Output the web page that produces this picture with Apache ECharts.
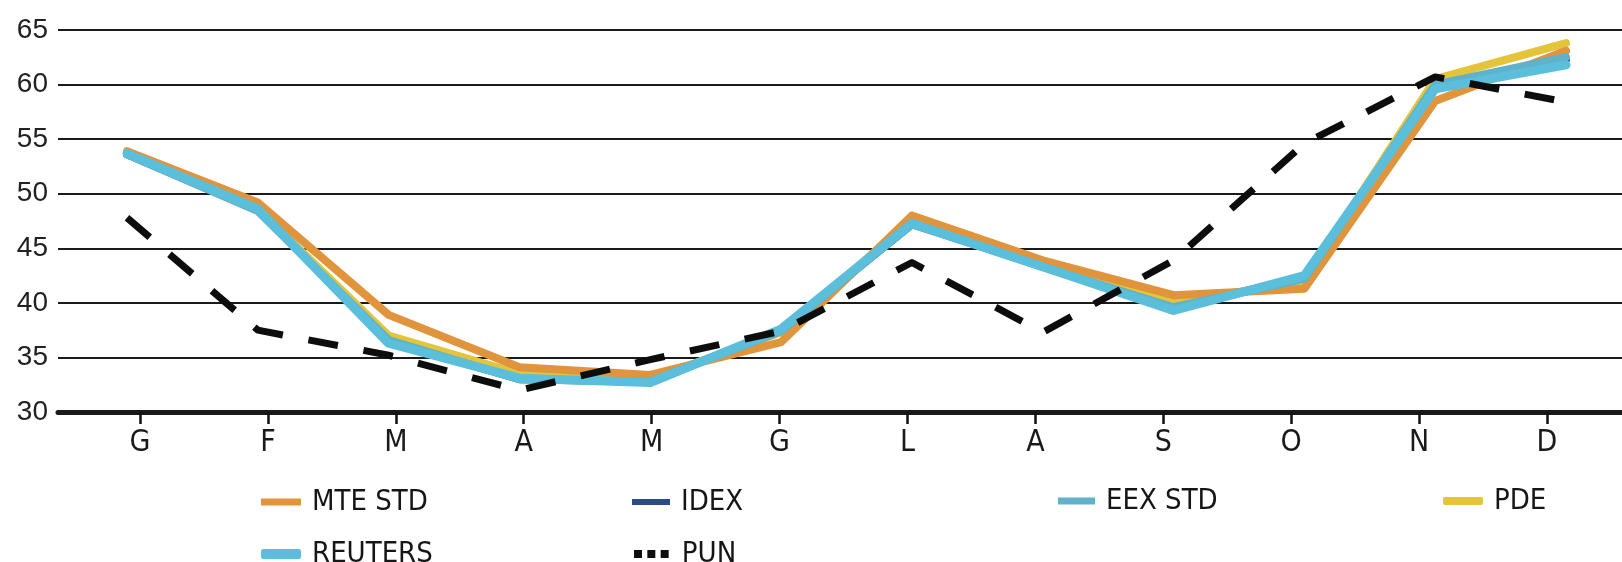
<!DOCTYPE html>
<html>
<head>
<meta charset="utf-8">
<script src="https://cdn.jsdelivr.net/npm/echarts@6/dist/echarts.min.js"></script>
<style>
  html, body { margin: 0; padding: 0; background: #ffffff; }
  #chart { width: 1622px; height: 562px; }
</style>
</head>
<body>
<div id="chart"></div>
<script>
// Month initials (Italian): Gennaio ... Dicembre
const months = ['G', 'F', 'M', 'A', 'M', 'G', 'L', 'A', 'S', 'O', 'N', 'D'];

// Monthly prices, €/MWh
const mteStd  = [53.9, 49.2, 38.9, 34.1, 33.4, 36.4, 48.0, 43.9, 40.7, 41.3, 58.5, 63.1];
const idex    = [53.6, 48.5, 36.5, 33.0, 32.8, 37.5, 47.2, 43.4, 39.6, 42.3, 60.0, 62.3];
const eexStd  = [53.6, 48.4, 36.6, 33.0, 32.8, 37.4, 47.2, 43.3, 39.6, 42.2, 60.0, 62.5];
const pde     = [53.7, 48.6, 37.0, 33.5, 33.0, 37.3, 47.6, 43.6, 40.0, 42.0, 60.5, 63.8];
const reuters = [53.7, 48.6, 36.3, 33.1, 32.7, 37.6, 47.3, 43.3, 39.3, 42.5, 59.6, 61.8];
const pun     = [47.8, 37.5, 35.2, 32.0, 34.8, 37.4, 43.7, 37.3, 43.9, 54.6, 60.7, 58.4];

// Value axis range
const yMin = 30, yMax = 65, yStep = 5;

const COLORS = {
  mte: '#e0943c',
  idex: '#2b4a8c',
  eex: '#5fb2c9',
  pde: '#e4c43a',
  reuters: '#5bbedb',
  pun: '#0d0d0d'
};

const CONDENSED = '"Liberation Sans Narrow", "DejaVu Sans Condensed", "Liberation Sans", sans-serif';

const legendFont = {
  fontFamily: CONDENSED,
  fontSize: 29,
  lineHeight: 30,
  color: '#161616',
  padding: [0, 0, 0, 6]
};

function legendItem(name, icon, left, top, w, h) {
  return {
    data: [{ name: name, icon: icon }],
    left: left, top: top,
    padding: 0,
    itemWidth: w, itemHeight: h,
    selectedMode: false,
    textStyle: legendFont
  };
}

function line(name, data, color, width, z, extra) {
  return Object.assign({
    name: name,
    type: 'line',
    xAxisIndex: 2, yAxisIndex: 2,
    data: data,
    color: color,
    symbol: 'none',
    z: z,
    lineStyle: { color: color, width: width, cap: 'round', join: 'round' }
  }, extra || {});
}

const chart = echarts.init(document.getElementById('chart'), null, { renderer: 'canvas' });

chart.setOption({
  animation: false,
  backgroundColor: '#ffffff',
  grid: [
    // frame: horizontal rules, value labels, base line
    { left: 58, right: 0, top: 30, bottom: 150 },
    // month ticks and labels
    { left: 140, right: 75, top: 30, bottom: 150 },
    // plotted series
    { left: 127, right: 56, top: 30, bottom: 150 }
  ],
  xAxis: [
    {
      gridIndex: 0, type: 'value', min: 0, max: 1,
      axisLine: { show: true, lineStyle: { color: '#1a1a1a', width: 5 } },
      axisTick: { show: false }, axisLabel: { show: false }, splitLine: { show: false }
    },
    {
      gridIndex: 1, type: 'category', data: months, boundaryGap: false,
      axisLine: { show: true, onZero: false, lineStyle: { color: '#1a1a1a', width: 5 } },
      axisTick: { show: true, interval: 0, length: 12, lineStyle: { color: '#111111', width: 2.5 } },
      axisLabel: {
        margin: 16,
        fontFamily: CONDENSED,
        fontSize: 30, color: '#1a1a1a'
      },
      splitLine: { show: false }
    },
    {
      gridIndex: 2, type: 'category', data: months, boundaryGap: false, show: false
    }
  ],
  yAxis: [
    {
      gridIndex: 0, type: 'value', min: yMin, max: yMax, interval: yStep,
      axisLine: { show: false }, axisTick: { show: false },
      axisLabel: {
        margin: 10,
        fontFamily: '"Liberation Sans", Arial, sans-serif',
        fontSize: 28, color: '#222222',
        padding: [0, 0, 6, 0]
      },
      splitLine: { show: true, lineStyle: { color: '#1a1a1a', width: 2 } }
    },
    { gridIndex: 1, type: 'value', min: yMin, max: yMax, show: false, splitLine: { show: false } },
    { gridIndex: 2, type: 'value', min: yMin, max: yMax, show: false, splitLine: { show: false } }
  ],
  legend: [
    legendItem('MTE STD', 'rect', 261, 487, 40, 7),
    legendItem('IDEX', 'rect', 632, 487, 38, 6),
    legendItem('EEX STD', 'rect', 1058, 486, 37, 7),
    legendItem('PDE', 'roundRect', 1443, 486, 40, 8),
    legendItem('REUTERS', 'roundRect', 261, 539, 40, 10),
    legendItem('PUN', 'path://M0 0h9v9H0z M15 0h9v9h-9z M30 0h9v9h-9z', 634, 539, 39, 8)
  ],
  series: [
    line('IDEX', idex, COLORS.idex, 8, 2),
    line('PDE', pde, COLORS.pde, 8, 3),
    line('MTE STD', mteStd, COLORS.mte, 8, 4),
    line('EEX STD', eexStd, COLORS.eex, 8, 5),
    line('REUTERS', reuters, COLORS.reuters, 9, 6),
    line('PUN', pun, COLORS.pun, 7, 7, {
      lineStyle: { color: COLORS.pun, width: 7, type: [30, 26], cap: 'butt', join: 'round' }
    })
  ]
});
</script>
</body>
</html>
